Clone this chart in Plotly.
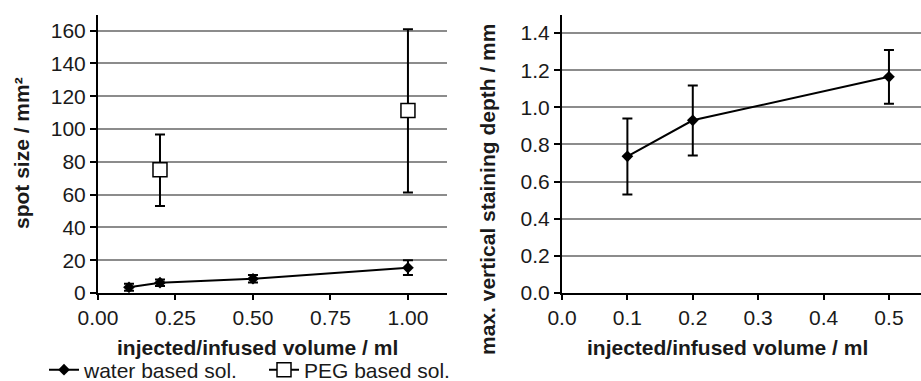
import plotly.graph_objects as go

# Left panel: spot size
water_x = [0.1, 0.2, 0.5, 1.0]
water_y = [3.5, 6.3, 8.7, 15.4]
water_err = [2.2, 2.0, 2.3, 4.5]

peg_x = [0.2, 1.0]
peg_y = [75.2, 111.2]
peg_err_plus = [21.5, 49.6]
peg_err_minus = [22.2, 50.0]

# Right panel: max vertical staining depth
depth_x = [0.1, 0.2, 0.5]
depth_y = [0.736, 0.93, 1.164]
depth_err_plus = [0.204, 0.188, 0.144]
depth_err_minus = [0.206, 0.19, 0.145]

left_xticks = [0, 0.25, 0.5, 0.75, 1.0]
left_xticklabels = ["0.00", "0.25", "0.50", "0.75", "1.00"]
left_yticks = [0, 20, 40, 60, 80, 100, 120, 140, 160]
right_xticks = [0, 0.1, 0.2, 0.3, 0.4, 0.5]
right_xticklabels = ["0.0", "0.1", "0.2", "0.3", "0.4", "0.5"]
right_yticks = [0, 0.2, 0.4, 0.6, 0.8, 1.0, 1.2, 1.4]
right_yticklabels = ["0.0", "0.2", "0.4", "0.6", "0.8", "1.0", "1.2", "1.4"]

FONT = "Liberation Sans, Arial, sans-serif"
TXT = "#1a1a1a"
W, H = 921, 381

fig = go.Figure()

fig.add_trace(go.Scatter(
    x=water_x, y=water_y, mode="lines+markers", name="water based sol.",
    line=dict(color="black", width=2),
    marker=dict(symbol="diamond", size=9, color="black"),
    error_y=dict(type="data", array=water_err, color="black", thickness=2, width=5),
    xaxis="x", yaxis="y",
))

# insert a gap so that no connecting segment is drawn between PEG points
px, py, pep, pem = [], [], [], []
for i in range(len(peg_x)):
    if i > 0:
        px.append(None); py.append(None); pep.append(None); pem.append(None)
    px.append(peg_x[i]); py.append(peg_y[i]); pep.append(peg_err_plus[i]); pem.append(peg_err_minus[i])

fig.add_trace(go.Scatter(
    x=px, y=py, mode="lines+markers", name="PEG based sol.", connectgaps=False,
    line=dict(color="black", width=2),
    marker=dict(symbol="square", size=14, color="white", line=dict(color="black", width=1.5)),
    error_y=dict(type="data", symmetric=False, array=pep, arrayminus=pem,
                 color="black", thickness=2, width=5),
    xaxis="x", yaxis="y",
))

fig.add_trace(go.Scatter(
    x=depth_x, y=depth_y, mode="lines+markers", name="depth", showlegend=False,
    line=dict(color="black", width=2),
    marker=dict(symbol="diamond", size=9, color="black"),
    error_y=dict(type="data", symmetric=False, array=depth_err_plus, arrayminus=depth_err_minus,
                 color="black", thickness=2, width=5),
    xaxis="x2", yaxis="y2",
))

ydom = [1 - 293 / H, 1 - 15 / H]
common_x = dict(showline=True, linecolor="black", linewidth=2, ticks="outside",
                tickcolor="black", ticklen=5, tickwidth=2, showgrid=False, zeroline=False,
                automargin=False, tickfont=dict(size=21, color=TXT, family=FONT))
common_y = dict(showline=True, linecolor="black", linewidth=2, ticks="outside",
                tickcolor="black", ticklen=6, tickwidth=2, showgrid=True,
                gridcolor="#8c8c8c", gridwidth=1.5, zeroline=False,
                automargin=False, tickfont=dict(size=21, color=TXT, family=FONT))

fig.update_layout(
    width=W, height=H,
    margin=dict(l=0, r=0, t=0, b=0, autoexpand=False),
    paper_bgcolor="white", plot_bgcolor="white",
    font=dict(family=FONT, size=21, color=TXT),
    xaxis=dict(domain=[98 / W, 447 / W], range=[0, 1.126], anchor="y",
               tickvals=left_xticks, ticktext=left_xticklabels, **common_x),
    yaxis=dict(domain=ydom, range=[0, 169.5], anchor="x",
               tickvals=left_yticks, **common_y),
    xaxis2=dict(domain=[562 / W, 1.0], range=[0, 0.549], anchor="y2",
                tickvals=right_xticks, ticktext=right_xticklabels, **common_x),
    yaxis2=dict(domain=ydom, range=[0, 1.497], anchor="x2",
                tickvals=right_yticks, ticktext=right_yticklabels, **common_y),
    legend=dict(orientation="h", x=44 / W, y=11 / H, xanchor="left", yanchor="middle",
                font=dict(size=21, color=TXT, family=FONT), entrywidth=175,
                bgcolor="rgba(0,0,0,0)", itemclick=False),
    showlegend=True,
)

ann = dict(xref="paper", yref="paper", showarrow=False,
           font=dict(size=21, color=TXT, family=FONT), xanchor="center", yanchor="middle")
fig.add_annotation(text="<b>injected/infused volume / ml</b>", x=257 / W, y=1 - 347 / H, **ann)
fig.add_annotation(text="<b>injected/infused volume / ml</b>", x=727 / W, y=1 - 347 / H, **ann)
fig.add_annotation(text="<b>spot size / mm²</b>", x=22 / W, y=1 - 153 / H, textangle=-90, **ann)
fig.add_annotation(text="<b>max. vertical staining depth / mm</b>", x=487 / W, y=1 - 190 / H,
                   textangle=-90, **ann)

fig.write_html("out.html")
